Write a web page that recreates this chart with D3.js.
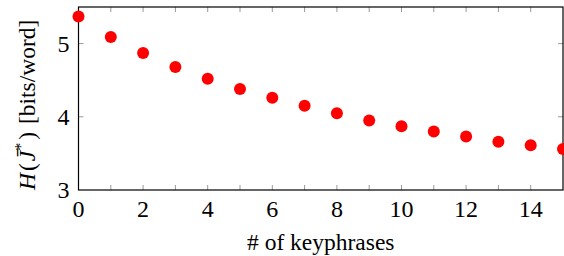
<!DOCTYPE html>
<html>
<head>
<meta charset="utf-8">
<script src="https://cdn.jsdelivr.net/npm/d3@7"></script>
<style>
  body { margin: 0; background: #fff; }
</style>
</head>
<body>
<div id="chart"></div>
<script>
// data
var keyphrases = [0, 1, 2, 3, 4, 5, 6, 7, 8, 9, 10, 11, 12, 13, 14, 15];
var entropy = [5.37, 5.09, 4.87, 4.68, 4.52, 4.38, 4.26, 4.15, 4.05, 3.95, 3.87, 3.80, 3.73, 3.66, 3.61, 3.56];
var xTickLabels = [0, 2, 4, 6, 8, 10, 12, 14];
var yTickLabels = [3, 4, 5];

var svgWidth = 564;
var svgHeight = 256;
var serif = "Liberation Serif";

var margin = {
  top: 7,
  right: 1,
  bottom: 66,
  left: 78.5
};

var width = svgWidth - margin.left - margin.right;
var height = svgHeight - margin.top - margin.bottom;

var svg = d3.select("#chart")
  .append("svg")
  .attr("width", svgWidth)
  .attr("height", svgHeight);

var chartGroup = svg.append("g")
  .attr("transform", `translate(${margin.left}, ${margin.top})`);

// scales
var xScale = d3.scaleLinear()
  .domain([0, 15])
  .range([0, width]);

var yScale = d3.scaleLinear()
  .domain([3, 5.5])
  .range([height, 0]);

// ticks, drawn inward on all four sides
var tickLen = 5;
var tickColor = "#999";

keyphrases.forEach(function(k) {
  if (k === 0 || k === 15) return;
  chartGroup.append("line")
    .attr("x1", xScale(k)).attr("x2", xScale(k))
    .attr("y1", height).attr("y2", height - tickLen)
    .attr("stroke", tickColor);
  chartGroup.append("line")
    .attr("x1", xScale(k)).attr("x2", xScale(k))
    .attr("y1", 0).attr("y2", tickLen)
    .attr("stroke", tickColor);
});

yTickLabels.forEach(function(v) {
  if (v === 3) return;
  chartGroup.append("line")
    .attr("x1", 0).attr("x2", tickLen)
    .attr("y1", yScale(v)).attr("y2", yScale(v))
    .attr("stroke", tickColor);
  chartGroup.append("line")
    .attr("x1", width).attr("x2", width - tickLen)
    .attr("y1", yScale(v)).attr("y2", yScale(v))
    .attr("stroke", tickColor);
});

// frame
chartGroup.append("rect")
  .attr("x", 0).attr("y", 0)
  .attr("width", width).attr("height", height)
  .attr("fill", "none")
  .attr("stroke", "#000")
  .attr("stroke-width", 1.2);

// tick labels
chartGroup.selectAll(".xlab")
  .data(xTickLabels)
  .enter()
  .append("text")
  .attr("class", "xlab")
  .attr("x", d => xScale(d))
  .attr("y", height + 27)
  .attr("text-anchor", "middle")
  .style("font-family", serif)
  .style("font-size", "24px")
  .text(d => d);

chartGroup.selectAll(".ylab")
  .data(yTickLabels)
  .enter()
  .append("text")
  .attr("class", "ylab")
  .attr("x", -9)
  .attr("y", d => yScale(d))
  .attr("dy", "0.34em")
  .attr("text-anchor", "end")
  .style("font-family", serif)
  .style("font-size", "24px")
  .text(d => d);

// points
chartGroup.selectAll("circle")
  .data(keyphrases)
  .enter()
  .append("circle")
  .attr("cx", (d, i) => xScale(d))
  .attr("cy", (d, i) => yScale(entropy[i]))
  .attr("r", 6)
  .attr("fill", "#ff0000");

// axis titles
svg.append("text")
  .attr("x", margin.left + width / 2)
  .attr("y", 250)
  .attr("text-anchor", "middle")
  .style("font-family", serif)
  .style("font-size", "23.5px")
  .text("# of keyphrases");

var yTitle = svg.append("text")
  .attr("transform", "translate(35, 190) rotate(-90)")
  .attr("text-anchor", "start")
  .style("font-family", serif)
  .style("font-size", "23.5px");
yTitle.append("tspan").attr("font-style", "italic").text("H");
yTitle.append("tspan").attr("dx", 2).text("(");
yTitle.append("tspan").attr("dx", 2).attr("font-style", "italic").text("J\u0304");
yTitle.append("tspan").attr("font-size", "16px").attr("dy", "-9").text("*");
yTitle.append("tspan").attr("dx", 3).attr("dy", "9").text(")");
yTitle.append("tspan").attr("dx", 2).text(" [bits/word]");
</script>
</body>
</html>
